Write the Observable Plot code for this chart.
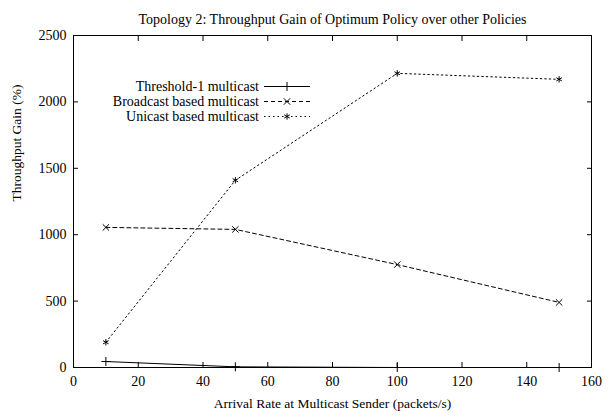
<!DOCTYPE html>
<html><head><meta charset="utf-8">
<script src="https://cdn.jsdelivr.net/npm/d3@7"></script>
<script src="https://cdn.jsdelivr.net/npm/@observablehq/plot@0.6"></script>
<style>
body{margin:0;background:#fff;}
#wrap{position:relative;width:613px;height:419px;font-family:"Liberation Serif",serif;}
#legend{position:absolute;right:303px;top:79px;font-size:14px;line-height:15px;}
.row{display:flex;align-items:center;justify-content:flex-end;height:15px;}
.row span{margin-right:5px;white-space:nowrap;}
</style></head>
<body><div id="wrap"><div id="legend"></div></div>
<script>
const xValues = [10, 50, 100, 150];
const seriesNames = ["Threshold-1 multicast", "Broadcast based multicast", "Unicast based multicast"];
const threshold = [45, 5, 0, 0];
const broadcast = [1055, 1040, 775, 490];
const unicast = [190, 1410, 2215, 2170];
const xTicks = [0, 20, 40, 60, 80, 100, 120, 140, 160];
const yTicks = [0, 500, 1000, 1500, 2000, 2500];
const title = "Topology 2: Throughput Gain of Optimum Policy over other Policies";
const xLabel = "Arrival Rate at Multicast Sender (packets/s)";
const yLabel = "Throughput Gain (%)";

const symbols = ["plus", "times", "asterisk"];
const dashes = [null, "4,3", "1.5,3"];
const all = [threshold, broadcast, unicast];
const data = [];
all.forEach((vals, s) => vals.forEach((v, i) => data.push({series: seriesNames[s], x: xValues[i], y: v, s})));

const fmt = d3.format("d");
const marks = [
  Plot.frame({stroke: "#000", strokeWidth: 1}),
  Plot.axisX({anchor: "bottom", ticks: xTicks, tickSize: 0, tickPadding: 9, tickFormat: fmt, label: null, fontSize: 14}),
  Plot.axisX({anchor: "bottom", ticks: xTicks, tickSize: -5, tickFormat: () => "", label: null}),
  Plot.axisX({anchor: "top", ticks: xTicks, tickSize: -5, tickFormat: () => "", label: null}),
  Plot.axisY({anchor: "left", ticks: yTicks, tickSize: 0, tickPadding: 7, tickFormat: fmt, label: null, fontSize: 14}),
  Plot.axisY({anchor: "left", ticks: yTicks, tickSize: -5, tickFormat: () => "", label: null}),
  Plot.axisY({anchor: "right", ticks: yTicks, tickSize: -5, tickFormat: () => "", label: null}),
  Plot.text([xLabel], {text: d => d, frameAnchor: "bottom", dy: 40, fontSize: 13.5}),
  Plot.text([yLabel], {text: d => d, frameAnchor: "left", dx: -57, rotate: -90, fontSize: 13.5}),
  Plot.text([title], {text: d => d, frameAnchor: "top", dy: -21, fontSize: 14}),
];
all.forEach((vals, s) => {
  const d = data.filter(r => r.s === s);
  marks.push(Plot.line(d, {x: "x", y: "y", stroke: "#000", strokeWidth: 1, strokeDasharray: dashes[s]}));
  marks.push(Plot.dot(d, {x: "x", y: "y", symbol: () => symbols[s], r: 3, stroke: "#000", strokeWidth: 1}));
});

const chart = Plot.plot({
  width: 613, height: 419,
  marginLeft: 73, marginRight: 22, marginTop: 35, marginBottom: 52,
  style: {fontFamily: "Liberation Serif, serif", fontSize: "14px", color: "#000", background: "#fff"},
  x: {domain: [0, 160]},
  y: {domain: [0, 2500]},
  symbol: {type: "identity"},
  marks
});
document.getElementById("wrap").prepend(chart);

// legend
const symMap = {plus: d3.symbolPlus, times: d3.symbolTimes, asterisk: d3.symbolAsterisk};
const leg = d3.select("#legend");
seriesNames.forEach((name, s) => {
  const row = leg.append("div").attr("class", "row");
  row.append("span").text(name);
  const svg = row.append("svg").attr("width", 46).attr("height", 15);
  svg.append("line").attr("x1", 0).attr("x2", 46).attr("y1", 7.5).attr("y2", 7.5).attr("stroke", "#000").attr("stroke-width", 1).attr("stroke-dasharray", dashes[s]);
  svg.append("path").attr("d", d3.symbol(symMap[symbols[s]], 28)()).attr("transform", "translate(23,7.5)").attr("fill", "none").attr("stroke", "#000");
});
</script></body></html>
